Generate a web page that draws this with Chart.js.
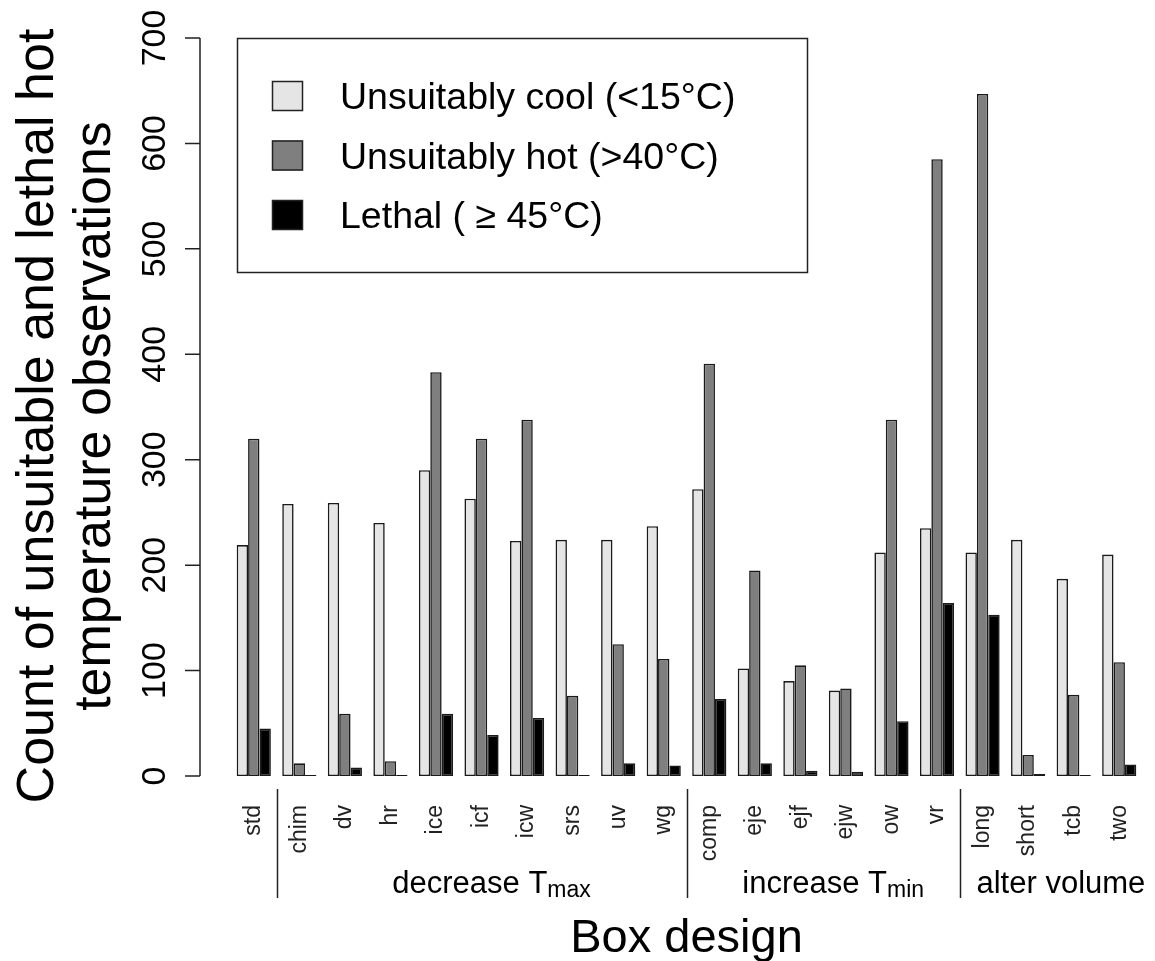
<!DOCTYPE html>
<html>
<head>
<meta charset="utf-8">
<script src="https://cdn.jsdelivr.net/npm/chart.js@4/dist/chart.umd.min.js"></script>
<style>
  html, body { margin: 0; padding: 0; background: #ffffff; }
</style>
</head>
<body>
<canvas id="myChart" width="1155" height="961"></canvas>
<script>
// ---------------- data ----------------
var categories = ["std", "chim", "dv", "hr", "ice", "icf", "icw", "srs", "uv", "wg",
                  "comp", "eje", "ejf", "ejw", "ow", "vr", "long", "short", "tcb", "two"];
var coolCounts   = [219, 258, 259, 240, 290, 263, 223, 224, 224, 237, 272, 102, 90, 81, 212, 235, 212, 224, 187, 210];
var hotCounts    = [320, 12, 59, 14, 383, 320, 338, 76, 125, 111, 391, 195, 105, 83, 338, 585, 647, 20, 77, 108];
var lethalCounts = [45, 0, 8, 0, 59, 39, 55, 0, 12, 10, 73, 12, 5, 4, 52, 164, 153, 2, 0, 11];
var seriesNames  = ["Unsuitably cool (<15°C)", "Unsuitably hot (>40°C)", "Lethal ( \u2265 45°C)"];
var yTicks = [0, 100, 200, 300, 400, 500, 600, 700];

var groupNames = ["decrease T", "increase T", "alter volume"];
var groupSubs  = ["max", "min", ""];
var groupFirst = [1, 10, 16];
var groupLast  = [9, 15, 19];

var FONT = "'Liberation Sans', Arial, sans-serif";

// ------------- extra drawing (R style axis, titles, legend) -------------
var rDecor = {
    id: "rDecor",
    afterDraw: function (chart) {
        var c = chart.ctx;
        var x = chart.scales.x;
        var y = chart.scales.y;
        c.save();
        c.strokeStyle = "#222";
        c.fillStyle = "#000";
        c.lineWidth = 1.5;

        // y axis, offset to the left like R
        var ax = 200;
        c.beginPath();
        c.moveTo(ax, y.getPixelForValue(yTicks[0]));
        c.lineTo(ax, y.getPixelForValue(yTicks[yTicks.length - 1]));
        yTicks.forEach(function (t) {
            var py = y.getPixelForValue(t);
            c.moveTo(ax - 15, py);
            c.lineTo(ax, py);
        });
        c.stroke();

        c.font = "34px " + FONT;
        c.textAlign = "center";
        c.textBaseline = "alphabetic";
        yTicks.forEach(function (t) {
            c.save();
            c.translate(165, y.getPixelForValue(t));
            c.rotate(-Math.PI / 2);
            c.fillText(String(t), 0, 0);
            c.restore();
        });

        // y title (two lines)
        var midY = (y.top + y.bottom) / 2 + 9;
        c.font = "52px " + FONT;
        c.save();
        c.translate(53, midY);
        c.rotate(-Math.PI / 2);
        c.fillText("Count of unsuitable and lethal hot", 0, 0);
        c.restore();
        c.save();
        c.translate(110, midY);
        c.rotate(-Math.PI / 2);
        c.fillText("temperature observations", 0, 0);
        c.restore();

        // x title
        c.font = "47px " + FONT;
        c.fillText("Box design", (x.left + x.right) / 2, 952);

        // group separators + group labels
        c.lineWidth = 1.5;
        groupFirst.forEach(function (g) {
            var sx = Math.round((x.getPixelForValue(g - 1) + x.getPixelForValue(g)) / 2) + 0.5;
            c.beginPath();
            c.moveTo(sx, 789);
            c.lineTo(sx, 898);
            c.stroke();
        });
        groupNames.forEach(function (name, i) {
            var cx = (x.getPixelForValue(groupFirst[i]) + x.getPixelForValue(groupLast[i])) / 2 + 10;
            c.font = "31px " + FONT;
            var w1 = c.measureText(name).width;
            c.font = "23px " + FONT;
            var w2 = groupSubs[i] ? c.measureText(groupSubs[i]).width : 0;
            var sx = cx - (w1 + w2) / 2;
            c.textAlign = "left";
            c.font = "31px " + FONT;
            c.fillText(name, sx, 893);
            if (groupSubs[i]) {
                c.font = "23px " + FONT;
                c.fillText(groupSubs[i], sx + w1, 897);
            }
        });

        // legend box
        c.lineWidth = 1.5;
        c.strokeRect(237.5, 38.5, 570, 234);
        var rows = [96, 155.5, 215];
        chart.data.datasets.forEach(function (ds, i) {
            c.fillStyle = ds.backgroundColor;
            c.fillRect(272, rows[i] - 15, 31, 30);
            c.strokeStyle = "#222";
            c.strokeRect(272.5, rows[i] - 14.5, 30, 29);
            c.fillStyle = "#000";
            c.font = "37.5px " + FONT;
            c.textAlign = "left";
            c.fillText(ds.label, 340, rows[i] + 13);
        });
        c.restore();
    }
};

// ---------------- chart ----------------
var ctx = document.getElementById("myChart");

new Chart(ctx, {
    type: "bar",
    data: {
        labels: categories,
        datasets: [
            { label: seriesNames[0], data: coolCounts,   backgroundColor: "#e5e5e5" },
            { label: seriesNames[1], data: hotCounts,    backgroundColor: "#7f7f7f" },
            { label: seriesNames[2], data: lethalCounts, backgroundColor: "#000000" }
        ]
    },
    options: {
        responsive: false,
        animation: false,
        devicePixelRatio: 1,
        layout: {
            padding: { left: 231, right: 13, top: 38, bottom: 0 }
        },
        datasets: {
            bar: {
                barPercentage: 1,
                categoryPercentage: 0.75,
                borderColor: "#1a1a1a",
                borderWidth: 1.6,
                borderSkipped: false,
                minBarLength: 1
            }
        },
        plugins: {
            legend: { display: false },
            tooltip: { enabled: false }
        },
        scales: {
            x: {
                grid: { display: false, drawTicks: false },
                border: { display: false },
                ticks: {
                    autoSkip: false,
                    minRotation: 90,
                    maxRotation: 90,
                    padding: 29,
                    color: "#222",
                    font: { family: FONT, size: 23 }
                },
                afterFit: function (scale) {
                    scale.height = 185;
                    scale.paddingLeft = 0;
                    scale.paddingRight = 0;
                }
            },
            y: {
                display: false,
                min: 0,
                max: 700
            }
        }
    },
    plugins: [rDecor]
});
</script>
</body>
</html>
